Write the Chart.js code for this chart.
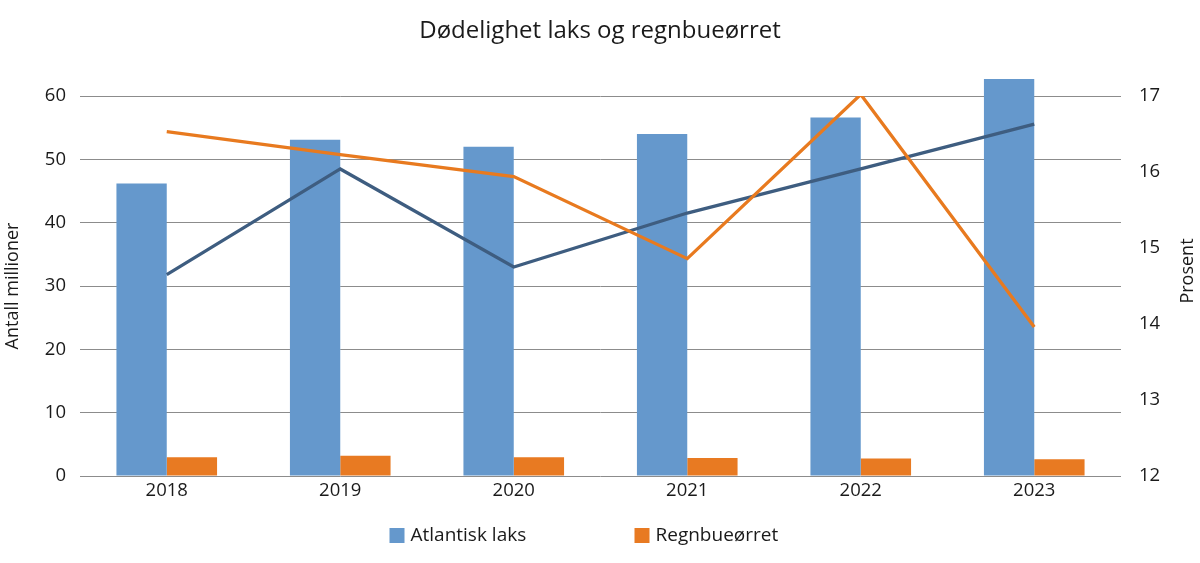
<!DOCTYPE html>
<html>
<head>
<meta charset="utf-8">
<script src="https://cdn.jsdelivr.net/npm/chart.js@4.4.1/dist/chart.umd.min.js"></script>
<style>
  html, body { margin: 0; padding: 0; background: #ffffff; }
  #wrap { width: 1200px; height: 563px; position: relative; }
</style>
</head>
<body>
<div id="wrap"><canvas id="c" width="1200" height="563"></canvas></div>
<script>
const years = ['2018', '2019', '2020', '2021', '2022', '2023'];
const laksAntall = [46.2, 53.1, 52.0, 54.0, 56.6, 62.7];
const regnAntall = [2.95, 3.2, 2.95, 2.85, 2.75, 2.65];
const laksProsent = [14.65, 16.04, 14.75, 15.46, 16.04, 16.63];
const regnProsent = [16.53, 16.23, 15.94, 14.86, 17.02, 13.96];
const rightTitle = 'Prosent';

const FONT = '"Open Sans", "Noto Sans", sans-serif';
const TXT = '#1a1a1a';

const extras = {
  id: 'extras',
  afterDraw(chart) {
    const ctx = chart.ctx;
    const ca = chart.chartArea;
    const cx = (ca.left + ca.right) / 2;
    const items = [
      { ds: chart.data.datasets[0], x: cx - 211 },
      { ds: chart.data.datasets[1], x: cx + 34 }
    ];
    ctx.save();
    ctx.font = '19px ' + FONT;
    ctx.textBaseline = 'middle';
    ctx.textAlign = 'left';
    items.forEach(it => {
      ctx.fillStyle = it.ds.backgroundColor;
      ctx.fillRect(it.x, 528, 15, 15);
      ctx.fillStyle = TXT;
      ctx.fillText(it.ds.label, it.x + 21, 536);
    });
    // right axis title, reading bottom-to-top
    const r = chart.scales.y1;
    ctx.translate(r.right - 12, (ca.top + ca.bottom) / 2 - 15);
    ctx.rotate(-Math.PI / 2);
    ctx.textAlign = 'center';
    ctx.font = '18px ' + FONT;
    ctx.fillText(rightTitle, 0, 0);
    ctx.restore();
  }
};

new Chart(document.getElementById('c'), {
  data: {
    labels: years,
    datasets: [
      { type: 'bar', label: 'Atlantisk laks', data: laksAntall, backgroundColor: '#6598cc',
        yAxisID: 'y', order: 2, clip: false, categoryPercentage: 0.58, barPercentage: 1.0 },
      { type: 'bar', label: 'Regnbueørret', data: regnAntall, backgroundColor: '#e87a22',
        yAxisID: 'y', order: 2, clip: false, categoryPercentage: 0.58, barPercentage: 1.0 },
      { type: 'line', label: 'Atlantisk laks, prosent', data: laksProsent, borderColor: '#3e5d80',
        borderWidth: 3.3, pointRadius: 0, tension: 0, yAxisID: 'y1', order: 1, fill: false },
      { type: 'line', label: 'Regnbueørret, prosent', data: regnProsent, borderColor: '#e87a1f',
        borderWidth: 3.3, pointRadius: 0, tension: 0, yAxisID: 'y1', order: 0, fill: false }
    ]
  },
  options: {
    responsive: false,
    animation: false,
    devicePixelRatio: 1,
    layout: { padding: { top: 0, left: 0, right: 0, bottom: 57 } },
    plugins: {
      legend: { display: false },
      tooltip: { enabled: false },
      title: {
        display: true,
        text: 'Dødelighet laks og regnbueørret',
        color: TXT,
        font: { family: FONT, size: 24, weight: 'normal' },
        padding: { top: 16.6, bottom: 50.6 }
      }
    },
    scales: {
      x: {
        grid: { display: false, drawTicks: false },
        border: { display: false },
        ticks: { color: TXT, font: { family: FONT, size: 18.5 }, padding: 4 },
        afterFit(s) { s.height = 30; }
      },
      y: {
        position: 'left',
        min: 0, max: 60,
        ticks: { stepSize: 10, color: TXT, font: { family: FONT, size: 18.5 }, padding: 14 },
        grid: { color: '#8c8c8c', lineWidth: 1, drawTicks: false },
        border: { display: false },
        title: { display: true, text: 'Antall millioner', color: TXT,
                 font: { family: FONT, size: 18 }, padding: { top: 2, bottom: 0 } },
        afterFit(s) { s.width = 80; }
      },
      y1: {
        position: 'right',
        min: 12, max: 17,
        ticks: { stepSize: 1, color: TXT, font: { family: FONT, size: 18.5 }, padding: 18 },
        grid: { display: false, drawTicks: false },
        border: { display: false },
        title: { display: false },
        afterFit(s) { s.width = 79; }
      }
    }
  },
  plugins: [extras]
});
</script>
</body>
</html>
